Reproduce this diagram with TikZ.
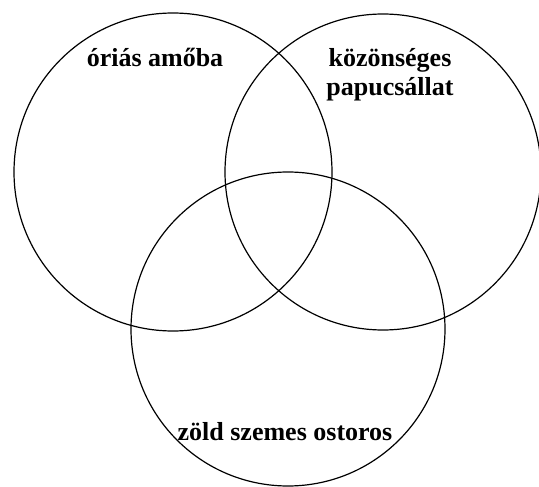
\documentclass[tikz,border=0pt]{standalone}
\usepackage{fontspec}
\setmainfont{Liberation Serif}
\usetikzlibrary{positioning}

\tikzset{
  setcirc/.style={draw=black, line width=1.2pt, circle, inner sep=0pt, outer sep=0pt},
  setlabel/.style={font=\fontsize{26}{29}\selectfont\bfseries, align=center, anchor=base, inner sep=0pt}
}

\begin{document}
\begin{tikzpicture}[x=1pt, y=-1pt]
  \useasboundingbox (0,0) rectangle (539,487);

  % the three sets
  \node[setcirc, minimum size=318pt] (amoeba) at (173,172) {};
  \node[setcirc, minimum size=316pt] (papucs) at (383,172) {};
  \node[setcirc, minimum size=314pt] (ostoros) at (288,329) {};

  % set names
  \node[setlabel] (amoebatxt) at (155,67) {óriás amőba};
  \node[setlabel] (papucstxt) at (390,96) {közönséges\\papucsállat};
  \node[setlabel] (ostorostxt) at (285,440) {zöld szemes ostoros};
\end{tikzpicture}
\end{document}
